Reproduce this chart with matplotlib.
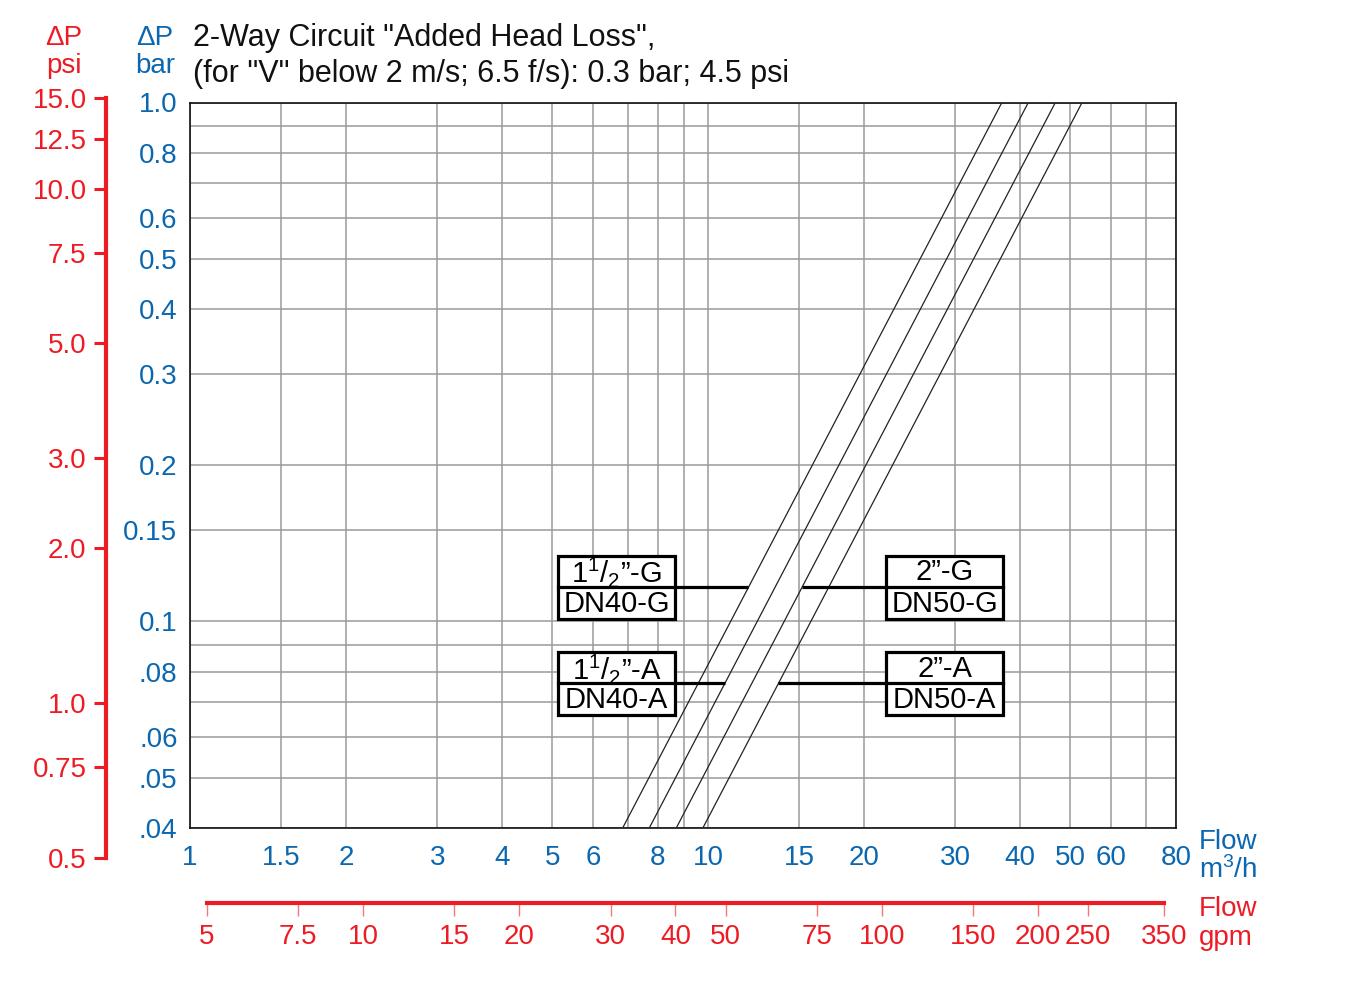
import numpy as np
import matplotlib
matplotlib.use("Agg")
import matplotlib.pyplot as plt
from matplotlib.patches import Rectangle
from matplotlib.ticker import NullFormatter, NullLocator
from matplotlib.transforms import ScaledTranslation

plt.rcParams["font.family"] = ["Liberation Sans", "DejaVu Sans"]
plt.rcParams["mathtext.fontset"] = "custom"
plt.rcParams["mathtext.rm"] = "Liberation Sans"
plt.rcParams["mathtext.it"] = "Liberation Sans"

BLUE = "#0a67b0"
RED = "#ed1c24"
GRID = "#9a9a9a"

# ─── data ─────────────────────────────────────────────────────────────────────
flow_ticks = [1, 1.5, 2, 3, 4, 5, 6, 8, 10, 15, 20, 30, 40, 50, 60, 80]
flow_extra_grid = [7, 9, 70]
bar_ticks = [0.04, 0.05, 0.06, 0.08, 0.1, 0.15, 0.2, 0.3, 0.4, 0.5, 0.6, 0.8, 1.0]
bar_labels = [".04", ".05", ".06", ".08", "0.1", "0.15", "0.2",
              "0.3", "0.4", "0.5", "0.6", "0.8", "1.0"]
bar_extra_grid = [0.07, 0.09, 0.7, 0.9]
psi_ticks = [0.5, 0.75, 1.0, 2.0, 3.0, 5.0, 7.5, 10.0, 12.5, 15.0]
psi_labels = ["0.5", "0.75", "1.0", "2.0", "3.0", "5.0", "7.5", "10.0", "12.5", "15.0"]
gpm_ticks = [5, 7.5, 10, 15, 20, 30, 40, 50, 75, 100, 150, 200, 250, 350]
gpm_labels = ["5", "7.5", "10", "15", "20", "30", "40", "50", "75",
              "100", "150", "200", "250", "350"]

# head loss curves: flow (m3/h) read at 0.04 bar and at 1.0 bar
curve_dp = [0.04, 1.0]
curve_names = ["DN40-G", "DN40-A", "DN50-G", "DN50-A"]
curve_flow = [
    [6.84, 36.9],
    [7.70, 41.5],
    [8.68, 46.8],
    [9.77, 52.7],
]

# label boxes: top line, bottom line (= curve name), box centre flow, leader dp
box_top = [r"$\mathregular{1^1/_2}$”-G", "2”-G", r"$\mathregular{1^1/_2}$”-A", "2”-A"]
box_bottom = ["DN40-G", "DN50-G", "DN40-A", "DN50-A"]
box_flow = [6.66, 28.6, 6.66, 28.6]
box_dp = [0.1164, 0.1164, 0.0760, 0.0760]

# ─── figure ───────────────────────────────────────────────────────────────────
W, H = 1350, 989
fig = plt.figure(figsize=(W / 100, H / 100), dpi=100)

def fx(px):
    return px / W

def fy(py):
    return 1 - py / H

ax = fig.add_axes([fx(190), fy(828), fx(1176) - fx(190), fy(102.5) - fy(828)])
ax.set_xscale("log")
ax.set_yscale("log")
ax.set_xlim(1, 80)
ax.set_ylim(0.04, 1.0)

ax.set_xticks(flow_ticks, [f"{v:g}" for v in flow_ticks])
ax.set_xticks(flow_extra_grid, minor=True)
ax.set_yticks(bar_ticks, bar_labels)
ax.set_yticks(bar_extra_grid, minor=True)
ax.xaxis.set_minor_formatter(NullFormatter())
ax.yaxis.set_minor_formatter(NullFormatter())
ax.grid(which="both", color=GRID, lw=1.1)
ax.set_axisbelow(True)
ax.tick_params(axis="both", which="both", length=0, labelcolor=BLUE, labelsize=20)
ax.tick_params(axis="x", pad=12)
ax.tick_params(axis="y", pad=9)
for s in ax.spines.values():
    s.set_color("#111111")
    s.set_linewidth(1.2)

# curves
for name, q in zip(curve_names, curve_flow):
    ax.plot(q, curve_dp, color="#222222", lw=0.9, zorder=3)

# label boxes with leader lines
bw, bh = 1.17, 0.63
for top, bot, bq, bdp in zip(box_top, box_bottom, box_flow, box_dp):
    q = curve_flow[curve_names.index(bot)]
    hit = 10 ** np.interp(np.log10(bdp), np.log10(curve_dp), np.log10(q))
    ax.plot([bq, hit], [bdp, bdp], color="black", lw=2.3, zorder=4,
            solid_capstyle="butt")
    tr = fig.dpi_scale_trans + ScaledTranslation(bq, bdp, ax.transData)
    ax.add_patch(Rectangle((-bw / 2, -bh / 2), bw, bh, transform=tr,
                           facecolor="white", edgecolor="black", lw=2.3, zorder=5))
    ax.plot([-bw / 2, bw / 2], [0, 0], transform=tr, color="black", lw=2.3, zorder=6)
    ax.text(0, bh / 4 - 0.01, top, transform=tr, ha="center", va="center",
            fontsize=21, zorder=7)
    ax.text(0, -bh / 4 - 0.01, bot, transform=tr, ha="center", va="center",
            fontsize=21, zorder=7)

# psi scale (left, red)
ax_psi = fig.add_axes([fx(106), fy(858), 0.0005, fy(98) - fy(858)])
ax_psi.set_facecolor("none")
ax_psi.set_yscale("log")
ax_psi.set_ylim(0.5, 15)
ax_psi.set_yticks(psi_ticks, psi_labels)
ax_psi.yaxis.set_minor_locator(NullLocator())
ax_psi.xaxis.set_major_locator(NullLocator())
ax_psi.xaxis.set_minor_locator(NullLocator())
for k in ["top", "right", "bottom"]:
    ax_psi.spines[k].set_visible(False)
ax_psi.spines["left"].set_color(RED)
ax_psi.spines["left"].set_linewidth(3)
ax_psi.tick_params(axis="y", direction="out", length=9, width=2.2, color=RED,
                   labelcolor=RED, labelsize=20, pad=5)

# gpm scale (bottom, red)
ax_gpm = fig.add_axes([fx(207), fy(903), fx(1164) - fx(207), 0.0005])
ax_gpm.set_facecolor("none")
ax_gpm.set_xscale("log")
ax_gpm.set_xlim(5, 350)
ax_gpm.set_xticks(gpm_ticks, gpm_labels)
ax_gpm.xaxis.set_minor_locator(NullLocator())
ax_gpm.yaxis.set_major_locator(NullLocator())
ax_gpm.yaxis.set_minor_locator(NullLocator())
for k in ["top", "right", "left"]:
    ax_gpm.spines[k].set_visible(False)
ax_gpm.spines["bottom"].set_color(RED)
ax_gpm.spines["bottom"].set_linewidth(3)
ax_gpm.tick_params(axis="x", direction="out", length=9, width=1, color="#f07a7e",
                   labelcolor=RED, labelsize=20, pad=6)

# texts
fig.text(fx(64), fy(38), "ΔP", color=RED, fontsize=20, ha="center", va="center")
fig.text(fx(64), fy(66), "psi", color=RED, fontsize=20, ha="center", va="center")
fig.text(fx(155), fy(38), "ΔP", color=BLUE, fontsize=20, ha="center", va="center")
fig.text(fx(155), fy(66), "bar", color=BLUE, fontsize=20, ha="center", va="center")
fig.text(fx(193), fy(38), '2-Way Circuit "Added Head Loss",', fontsize=22,
         ha="left", va="center", color="#111111")
fig.text(fx(193), fy(74), '(for "V" below 2 m/s; 6.5 f/s): 0.3 bar; 4.5 psi',
         fontsize=22, ha="left", va="center", color="#111111")

fig.text(fx(1199), fy(842), "Flow", color=BLUE, fontsize=20, ha="left", va="center")
fig.text(fx(1199), fy(870), "m$^3$/h", color=BLUE, fontsize=20, ha="left", va="center")
fig.text(fx(1199), fy(909), "Flow", color=RED, fontsize=20, ha="left", va="center")
fig.text(fx(1199), fy(938), "gpm", color=RED, fontsize=20, ha="left", va="center")

fig.savefig("out.png", dpi=100)
